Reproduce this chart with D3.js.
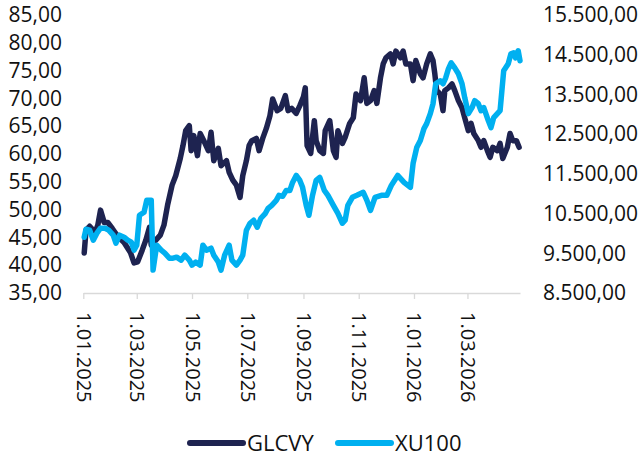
<!DOCTYPE html>
<html>
<head>
<meta charset="utf-8">
<script src="https://cdn.jsdelivr.net/npm/d3@7"></script>
<style>
  body { margin: 0; background: #fff; }
  svg { display: block; font-family: "Open Sans", sans-serif; }
</style>
</head>
<body>
<svg width="641" height="459"></svg>
<script>
// GLCVY (left axis)
const glcvyDates = [
  "2025-01-02","2025-01-04","2025-01-08","2025-01-14","2025-01-17","2025-01-20","2025-01-24","2025-01-28",
  "2025-02-02","2025-02-08","2025-02-15","2025-02-22","2025-02-26","2025-03-02","2025-03-07","2025-03-11",
  "2025-03-15","2025-03-17","2025-03-22","2025-03-27","2025-03-31","2025-04-04","2025-04-09","2025-04-13",
  "2025-04-18","2025-04-21","2025-04-24","2025-04-28","2025-04-30","2025-05-03","2025-05-07","2025-05-10",
  "2025-05-14","2025-05-19","2025-05-22","2025-05-25","2025-05-30","2025-06-02","2025-06-08","2025-06-11",
  "2025-06-15","2025-06-19","2025-06-23","2025-06-26","2025-06-30","2025-07-03","2025-07-06","2025-07-11",
  "2025-07-14","2025-07-18","2025-07-22","2025-07-26","2025-07-29","2025-08-03","2025-08-07","2025-08-12",
  "2025-08-15","2025-08-19","2025-08-24","2025-08-28","2025-09-01","2025-09-03","2025-09-05","2025-09-09",
  "2025-09-13","2025-09-15","2025-09-19","2025-09-23","2025-09-25","2025-09-30","2025-10-04","2025-10-07",
  "2025-10-09","2025-10-14","2025-10-17","2025-10-22","2025-10-26","2025-10-29","2025-11-03","2025-11-07",
  "2025-11-10","2025-11-14","2025-11-18","2025-11-21","2025-11-25","2025-11-28","2025-12-01","2025-12-06",
  "2025-12-09","2025-12-12","2025-12-17","2025-12-20","2025-12-23","2025-12-28","2025-12-31","2026-01-03",
  "2026-01-08","2026-01-11","2026-01-15","2026-01-19","2026-01-22","2026-01-24","2026-01-26","2026-01-30",
  "2026-02-02","2026-02-04","2026-02-08","2026-02-12","2026-02-15","2026-02-19","2026-02-23","2026-02-26",
  "2026-03-02","2026-03-05","2026-03-08","2026-03-13","2026-03-16","2026-03-19","2026-03-23","2026-03-26",
  "2026-03-29","2026-04-03","2026-04-06","2026-04-09","2026-04-14","2026-04-17","2026-04-20","2026-04-24",
  "2026-04-27"
];
const glcvyValues = [
  42.2,46.3,47.0,45.9,47.2,49.9,47.7,47.7,
  46.6,45.2,44.1,42.3,40.4,40.6,42.7,44.5,
  46.8,43.6,44.5,45.4,47.2,50.8,54.4,56.1,
  59.2,61.5,64.2,65.1,60.6,63.3,59.7,63.7,
  62.4,60.6,63.9,58.8,61.0,57.9,58.8,56.7,
  55.3,54.4,52.2,56.1,58.8,61.5,62.4,62.8,
  60.6,62.8,64.6,66.9,69.9,67.8,68.2,70.5,
  67.8,68.2,67.3,68.7,70.3,71.9,61.5,60.1,
  66.0,62.4,60.6,60.1,64.2,66.0,60.6,59.4,
  64.2,61.9,63.0,65.5,66.5,70.8,69.6,73.7,
  69.1,69.6,71.4,69.1,73.7,76.2,77.3,78.0,
  76.2,78.5,77.3,78.5,76.2,76.2,73.2,76.8,
  74.4,73.7,76.2,78.0,76.8,74.4,71.4,70.8,
  67.8,71.4,71.9,72.6,71.4,69.6,68.3,66.5,
  64.2,65.5,63.7,62.4,61.2,62.4,60.6,59.4,
  61.2,60.6,61.9,59.2,61.2,63.7,62.4,62.4,
  61.2
];

// XU100 (right axis)
const xu100Dates = [
  "2025-01-02","2025-01-04","2025-01-08","2025-01-12","2025-01-16","2025-01-20","2025-01-25","2025-01-29",
  "2025-02-03","2025-02-06","2025-02-10","2025-02-15","2025-02-19","2025-02-23","2025-02-26","2025-03-01",
  "2025-03-04","2025-03-09","2025-03-12","2025-03-17","2025-03-19","2025-03-23","2025-03-28","2025-04-01",
  "2025-04-06","2025-04-10","2025-04-14","2025-04-19","2025-04-23","2025-04-28","2025-05-01","2025-05-05",
  "2025-05-10","2025-05-13","2025-05-17","2025-05-22","2025-05-25","2025-05-30","2025-06-02","2025-06-06",
  "2025-06-11","2025-06-14","2025-06-19","2025-06-23","2025-06-26","2025-06-30","2025-07-04","2025-07-08",
  "2025-07-12","2025-07-16","2025-07-21","2025-07-24","2025-07-28","2025-08-02","2025-08-05","2025-08-09",
  "2025-08-13","2025-08-17","2025-08-20","2025-08-24","2025-08-28","2025-08-31","2025-09-04","2025-09-07",
  "2025-09-11","2025-09-15","2025-09-19","2025-09-24","2025-09-28","2025-10-04","2025-10-09","2025-10-14",
  "2025-10-17","2025-10-20","2025-10-25","2025-10-30","2025-11-06","2025-11-10","2025-11-14","2025-11-19",
  "2025-11-26","2025-12-02","2025-12-07","2025-12-14","2025-12-21","2025-12-28","2025-12-31","2026-01-04",
  "2026-01-08","2026-01-12","2026-01-15","2026-01-19","2026-01-22","2026-01-25","2026-01-30","2026-02-02",
  "2026-02-05","2026-02-08","2026-02-11","2026-02-15","2026-02-19","2026-02-23","2026-02-26","2026-03-02",
  "2026-03-06","2026-03-09","2026-03-13","2026-03-16","2026-03-19","2026-03-24","2026-03-27","2026-03-30",
  "2026-04-03","2026-04-06","2026-04-08","2026-04-10","2026-04-15","2026-04-18","2026-04-21","2026-04-23",
  "2026-04-26","2026-04-28"
];
const xu100Values = [
  9905,10106,10081,9830,10005,10131,10131,10081,
  9955,9755,9955,9905,9830,9780,9579,9704,
  10457,10532,10833,10833,9077,9704,9579,9504,
  9378,9378,9403,9328,9453,9328,9203,9278,
  9203,9704,9579,9629,9453,9278,9077,9453,
  9704,9328,9203,9328,9453,10081,10256,10332,
  10156,10382,10507,10633,10708,10833,10959,10934,
  11084,11084,11285,11461,11335,11160,10708,10457,
  10959,11335,11410,11084,10959,10708,10507,10256,
  10332,10708,10909,10959,11034,10833,10582,10909,
  10959,10959,11210,11461,11285,11160,11762,12163,
  12339,12640,12765,13016,13267,13769,13844,13769,
  13919,14145,14296,14170,14020,13769,13418,13016,
  13167,13342,13267,13091,13167,12841,12665,12916,
  13016,13091,13593,14095,14271,14522,14547,14421,
  14597,14346
];

const seriesNames = ["GLCVY", "XU100"];
const seriesColors = ["#1e2350", "#00b0f0"];
const leftTicks = [35, 40, 45, 50, 55, 60, 65, 70, 75, 80, 85];
const rightTicks = [8500, 9500, 10500, 11500, 12500, 13500, 14500, 15500];
const dateTicks = ["2025-01-01","2025-03-01","2025-05-01","2025-07-01","2025-09-01","2025-11-01","2026-01-01","2026-03-01"];

const parse = d3.timeParse("%Y-%m-%d");
const trLocale = d3.formatLocale({ decimal: ",", thousands: ".", grouping: [3], currency: ["", ""] });
const fmt = trLocale.format(",.2f");
const dateFmt = d3.timeFormat("%-d.%m.%Y");

const svg = d3.select("svg");

const x = d3.scaleTime()
  .domain([parse("2025-01-01"), parse("2026-04-28")])
  .range([83.3, 520]);
const yLeft = d3.scaleLinear().domain([35, 85]).range([293, 15]);
const yRight = d3.scaleLinear().domain([8500, 15500]).range([293, 15]);

// Left axis labels
svg.append("g")
  .attr("transform", "translate(62,0)")
  .call(d3.axisLeft(yLeft).tickValues(leftTicks).tickFormat(fmt).tickSize(0).tickPadding(0))
  .call(g => g.select(".domain").remove())
  .selectAll("text")
  .attr("font-size", 21)
  .attr("font-family", "Open Sans")
  .attr("fill", "#111");

// Right axis labels
svg.append("g")
  .attr("transform", "translate(543,0)")
  .call(d3.axisRight(yRight).tickValues(rightTicks).tickFormat(fmt).tickSize(0).tickPadding(0))
  .call(g => g.select(".domain").remove())
  .selectAll("text")
  .attr("font-size", 21)
  .attr("font-family", "Open Sans")
  .attr("fill", "#111");

// Date axis, labels rotated
const xAxis = svg.append("g")
  .attr("transform", "translate(0,293)")
  .call(d3.axisBottom(x).tickValues(dateTicks.map(parse)).tickFormat(dateFmt).tickSize(6).tickSizeOuter(0));
xAxis.select(".domain").attr("stroke", "#d9d9d9").attr("stroke-width", 1.3);
xAxis.selectAll(".tick line").attr("stroke", "#d9d9d9").attr("stroke-width", 1.3);
xAxis.selectAll(".tick text")
  .attr("transform", "rotate(90)")
  .attr("text-anchor", "start")
  .attr("x", 19)
  .attr("y", 0)
  .attr("dy", "0.35em")
  .attr("font-size", 20)
  .attr("font-family", "Open Sans")
  .attr("fill", "#111");

// Lines
const series = [
  { dates: glcvyDates, values: glcvyValues, y: yLeft },
  { dates: xu100Dates, values: xu100Values, y: yRight }
];

series.forEach((s, i) => {
  const pts = s.dates.map((d, j) => [parse(d), s.values[j]]);
  const line = d3.line()
    .x(d => x(d[0]))
    .y(d => s.y(d[1]));
  svg.append("path")
    .attr("d", line(pts))
    .attr("fill", "none")
    .attr("stroke", seriesColors[i])
    .attr("stroke-width", 5.5)
    .attr("stroke-linejoin", "round")
    .attr("stroke-linecap", "round");
});

// Legend
const legendX = [190, 338];
const legend = svg.append("g")
  .selectAll("g")
  .data(seriesNames)
  .enter()
  .append("g")
  .attr("transform", (d, i) => `translate(${legendX[i]},443)`);
legend.append("line")
  .attr("x1", 0).attr("x2", 53)
  .attr("stroke", (d, i) => seriesColors[i])
  .attr("stroke-width", 6)
  .attr("stroke-linecap", "round");
legend.append("text")
  .attr("x", 57)
  .attr("dy", "0.36em")
  .attr("font-size", 22)
  .attr("fill", "#111")
  .text(d => d);
</script>
</body>
</html>
